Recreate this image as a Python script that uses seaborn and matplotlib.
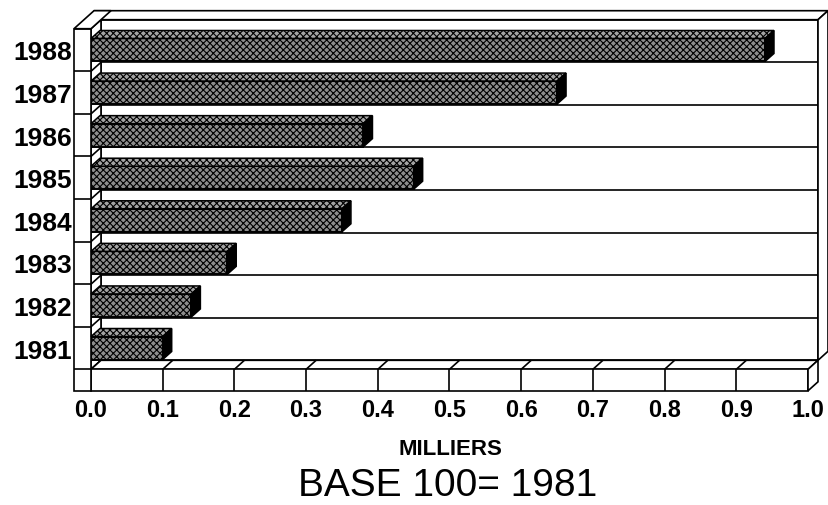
import matplotlib
matplotlib.use("Agg")
import matplotlib.pyplot as plt
from matplotlib.patches import Polygon
import seaborn as sns
import pandas as pd

# Index values (thousands), base 100 = 1981
annees = ["1988", "1987", "1986", "1985", "1984", "1983", "1982", "1981"]
valeurs = [0.94, 0.65, 0.38, 0.45, 0.35, 0.19, 0.14, 0.10]
graduations = [0.0, 0.1, 0.2, 0.3, 0.4, 0.5, 0.6, 0.7, 0.8, 0.9, 1.0]
etiquettes = ["0.0", "0.1", "0.2", "0.3", "0.4", "0.5", "0.6", "0.7", "0.8", "0.9", "1.0"]

sns.set_theme(style="white")
plt.rcParams["font.family"] = ["Liberation Sans", "DejaVu Sans"]
plt.rcParams["text.color"] = "black"
plt.rcParams["xtick.color"] = "black"
plt.rcParams["ytick.color"] = "black"
plt.rcParams["hatch.color"] = "#1a1a1a"
plt.rcParams["hatch.linewidth"] = 0.8

W, H = 829, 506
fig = plt.figure(figsize=(W / 100, H / 100), dpi=100)
fig.patch.set_facecolor("white")
L, R, T, B = 91, 808, 29.7, 370.3
ax = fig.add_axes([L / W, 1 - B / H, (R - L) / W, (B - T) / H])

df = pd.DataFrame({"annee": annees, "valeur": valeurs})
sns.barplot(data=df, x="valeur", y="annee", order=annees, orient="h",
            color="#8e8e8e", saturation=1, width=0.54, edgecolor="black",
            linewidth=1.4, ax=ax, zorder=6)

ax.set_xlim(0, 1)
ax.set_ylim(7.5, -0.5)
for s in ax.spines.values():
    s.set_visible(False)
ax.set_facecolor("none")
ax.set_xlabel("")
ax.set_ylabel("")
ax.set_xticks(graduations)
ax.set_xticklabels(etiquettes, fontsize=17, fontweight="bold", color="black")
ax.tick_params(axis="x", length=0, pad=21, labelcolor="black")
ax.tick_params(axis="y", length=0, pad=13.5, labelsize=19, labelcolor="black")
for t in ax.get_yticklabels():
    t.set_fontweight("bold")

LW = 1.2
DX, DY = 10, 9          # depth of the frame, in pixels
BDX, BDY = 9, 8         # depth of each bar
FLOOR = 21.5            # thickness of the floor slab
WALL = 17               # width of the left wall


def P(x, y, dx=0.0, dy=0.0):
    X, Y = ax.transData.transform((x, y))
    return tuple(ax.transData.inverted().transform((X + dx, Y + dy)))


def poly(pts, fc="white", z=1, lw=LW):
    ax.add_patch(Polygon(pts, closed=True, facecolor=fc, edgecolor="black",
                         linewidth=lw, zorder=z, clip_on=False, joinstyle="miter"))


def line(p, q, z=2, lw=LW):
    ax.plot([p[0], q[0]], [p[1], q[1]], color="black", lw=lw, zorder=z,
            clip_on=False, solid_capstyle="butt")


top, bot = -0.5, 7.5

# back wall
poly([P(0, top, DX, DY), P(1, top, DX, DY), P(1, bot, DX, DY), P(0, bot, DX, DY)], z=1)
# rim along the top of the back wall
poly([P(0, top, DX, DY), P(1, top, DX, DY), P(1, top, 2 * DX, 2 * DY),
      P(0, top, -WALL + 2 * DX, 2 * DY)], z=1)
# right wall
poly([P(1, bot, DX, DY), P(1, top, DX, DY), P(1, top, 2 * DX, 2 * DY),
      P(1, bot, 2 * DX, 2 * DY)], z=3)
# row lines on the back wall
for i in range(len(annees) - 1):
    line(P(0, i + 0.5, DX, DY), P(1, i + 0.5, DX, DY), z=2)

# floor slab
poly([P(0, bot), P(1, bot), P(1, bot, DX, DY), P(0, bot, DX, DY)], z=3)
poly([P(0, bot), P(1, bot), P(1, bot, 0, -FLOOR), P(0, bot, 0, -FLOOR)], z=3)
poly([P(1, bot), P(1, bot, DX, DY), P(1, bot, DX, DY - FLOOR), P(1, bot, 0, -FLOOR)], z=3)
for g in graduations[1:-1]:
    line(P(g, bot), P(g, bot, 0, -FLOOR), z=4)
    line(P(g, bot), P(g, bot, DX, DY), z=4)

# left wall: inner face, front face and top
poly([P(0, top), P(0, top, DX, DY), P(0, bot, DX, DY), P(0, bot)], z=2)
for i in range(len(annees)):
    line(P(0, i + 0.5), P(0, i + 0.5, DX, DY), z=2)
poly([P(0, top, -WALL, 0), P(0, top), P(0, bot, 0, -FLOOR), P(0, bot, -WALL, -FLOOR)], z=4)
for i in range(len(annees)):
    line(P(0, i + 0.5, -WALL, 0), P(0, i + 0.5), z=4)
poly([P(0, top, -WALL, 0), P(0, top), P(0, top, 2 * DX, 2 * DY),
      P(0, top, -WALL + 2 * DX, 2 * DY)], z=4)

# bars: front faces come from seaborn, add top and side faces
for patch in ax.patches[:]:
    if not hasattr(patch, "get_width") or patch.get_zorder() != 6:
        continue
    patch.set_hatch("xxxxx")
    x0, w = patch.get_x(), patch.get_width()
    y0, h = patch.get_y(), patch.get_height()
    x1, y1 = x0 + w, y0 + h
    ax.add_patch(Polygon([P(x0, y0), P(x1, y0), P(x1, y0, BDX, BDY), P(x0, y0, BDX, BDY)],
                         closed=True, facecolor="#a4a4a4", edgecolor="black",
                         linewidth=1.1, hatch="xxxxx", zorder=6, clip_on=False))
    ax.add_patch(Polygon([P(x1, y0), P(x1, y1), P(x1, y1, BDX, BDY), P(x1, y0, BDX, BDY)],
                         closed=True, facecolor="black", edgecolor="black",
                         linewidth=1.1, zorder=6, clip_on=False))

fig.text(450 / W, 1 - 450 / H, "MILLIERS", ha="center", va="center",
         fontsize=16, fontweight="bold", color="black")
fig.text(448 / W, 1 - 486 / H, "BASE 100= 1981", ha="center", va="center",
         fontsize=28, color="black")

fig.savefig("out.png", dpi=100, facecolor="white")
